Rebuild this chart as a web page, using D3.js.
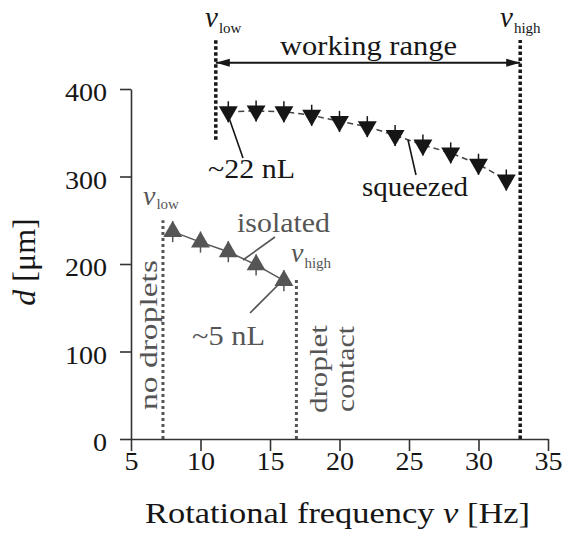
<!DOCTYPE html>
<html>
<head>
<meta charset="utf-8">
<script src="https://cdn.jsdelivr.net/npm/d3@7"></script>
<style>
  html, body { margin: 0; padding: 0; background: #fff; }
  svg { display: block; font-family: "Liberation Serif", "Times New Roman", serif; }
</style>
</head>
<body>
<div id="chart"></div>
<script>
// ---- data ----
const freqSqueezed = [12, 14, 16, 18, 20, 22, 24, 26, 28, 30, 32];
const dSqueezed    = [374, 375, 374, 370, 363, 357, 347, 336, 327, 314, 296];
const errSqueezed  = [12, 12, 12, 12, 12, 12, 12, 12, 12, 12, 12];

const freqIsolated = [8, 10, 12, 14, 16];
const dIsolated    = [237, 225, 214, 199, 181];
const errIsolated  = [12, 12, 12, 12, 12];

const xTicks = [5, 10, 15, 20, 25, 30, 35];
const yTicks = [0, 100, 200, 300, 400];

// boundary frequencies (vertical dotted lines): x, bottom d, top d
const boundFreq   = [11.1, 33.0, 7.3, 16.9];
const boundBottom = [342, 0, 0, 0];
const boundTop    = [456, 456, 250, 184];
const boundGroup  = ["squeezed", "squeezed", "isolated", "isolated"];

const workingRange = [11.1, 33.0];
const workingRangeD = 430;

// ---- layout ----
const W = 565, H = 535;
const x = d3.scaleLinear().domain([5, 35]).range([131, 548]);
const y = d3.scaleLinear().domain([0, 400]).range([439, 89]);

const BLACK = "#161616", GREY = "#555555", AXIS = "#333333";
const SX = 1.08;

const svg = d3.select("#chart").append("svg").attr("width", W).attr("height", H);

// ---- boundary dotted lines ----
svg.append("g").selectAll("line").data(boundFreq).join("line")
  .attr("x1", d => x(d)).attr("x2", d => x(d))
  .attr("y1", (d, i) => y(boundBottom[i])).attr("y2", (d, i) => y(boundTop[i]))
  .attr("stroke", (d, i) => boundGroup[i] === "squeezed" ? BLACK : GREY)
  .attr("stroke-width", (d, i) => boundGroup[i] === "squeezed" ? 3.5 : 3)
  .attr("stroke-dasharray", (d, i) => boundGroup[i] === "squeezed" ? "3.5,2.5" : "3,3");

// ---- working range arrow ----
const defs = svg.append("defs");
["arrEnd", "arrStart"].forEach((id, k) => {
  defs.append("marker").attr("id", id)
    .attr("viewBox", "0 0 14 10").attr("refX", k === 0 ? 14 : 0).attr("refY", 5)
    .attr("markerWidth", 14).attr("markerHeight", 10).attr("markerUnits", "userSpaceOnUse")
    .attr("orient", "auto")
    .append("path")
    .attr("d", k === 0 ? "M0,1 L14,5 L0,9 Z" : "M14,1 L0,5 L14,9 Z")
    .attr("fill", BLACK);
});
svg.append("line")
  .attr("x1", x(workingRange[0])).attr("x2", x(workingRange[1]))
  .attr("y1", y(workingRangeD)).attr("y2", y(workingRangeD))
  .attr("stroke", BLACK).attr("stroke-width", 2)
  .attr("marker-start", "url(#arrStart)").attr("marker-end", "url(#arrEnd)");

// ---- axes ----
const gx = svg.append("g").attr("transform", `translate(0,${y(0)})`)
  .call(d3.axisBottom(x).tickValues(xTicks).tickSize(12).tickSizeOuter(0).tickPadding(1));
const gy = svg.append("g").attr("transform", `translate(${x(5)},0)`)
  .call(d3.axisLeft(y).tickValues(yTicks).tickSize(11).tickSizeOuter(0).tickPadding(13));
[gx, gy].forEach(g => {
  g.select(".domain").attr("stroke", AXIS).attr("stroke-width", 1.6);
  g.selectAll(".tick line").attr("stroke", AXIS).attr("stroke-width", 1.6);
  g.selectAll(".tick text")
    .attr("font-family", "Liberation Serif, serif").attr("font-size", 26).attr("fill", BLACK)
    .each(function () {
      const t = d3.select(this);
      const tx = +t.attr("x") || 0, ty = +t.attr("y") || 0;
      t.attr("transform", `translate(${tx},${ty}) scale(${SX},1)`).attr("x", 0).attr("y", 0);
    });
});
gy.selectAll(".tick text").attr("dy", "0.45em");

// ---- series lines ----
const lineGen = d3.line().x(d => x(d[0])).y(d => y(d[1]));
svg.append("path")
  .datum(freqSqueezed.map((f, i) => [f, dSqueezed[i]]))
  .attr("d", lineGen).attr("fill", "none")
  .attr("stroke", "#444").attr("stroke-width", 1.5).attr("stroke-dasharray", "6,4");
svg.append("path")
  .datum(freqIsolated.map((f, i) => [f, dIsolated[i]]))
  .attr("d", lineGen).attr("fill", "none")
  .attr("stroke", GREY).attr("stroke-width", 1.5);

// ---- error bars ----
svg.append("g").selectAll("line").data(freqSqueezed).join("line")
  .attr("x1", d => x(d)).attr("x2", d => x(d))
  .attr("y1", (d, i) => y(dSqueezed[i] - errSqueezed[i]))
  .attr("y2", (d, i) => y(dSqueezed[i] + errSqueezed[i]))
  .attr("stroke", BLACK).attr("stroke-width", 1.5);
svg.append("g").selectAll("line").data(freqIsolated).join("line")
  .attr("x1", d => x(d)).attr("x2", d => x(d))
  .attr("y1", (d, i) => y(dIsolated[i] - errIsolated[i]))
  .attr("y2", (d, i) => y(dIsolated[i] + errIsolated[i]))
  .attr("stroke", GREY).attr("stroke-width", 1.5);

// ---- markers ----
const tri = d3.symbol().type(d3.symbolTriangle).size(155);
svg.append("g").selectAll("path").data(freqSqueezed).join("path")
  .attr("d", tri)
  .attr("transform", (d, i) => `translate(${x(d)},${y(dSqueezed[i])}) rotate(180)`)
  .attr("fill", BLACK);
svg.append("g").selectAll("path").data(freqIsolated).join("path")
  .attr("d", tri)
  .attr("transform", (d, i) => `translate(${x(d)},${y(dIsolated[i])})`)
  .attr("fill", GREY);

// ---- annotation pointer lines ----
const pointers = [
  [228, 115, 243, 158, BLACK],
  [408, 140, 416, 175, BLACK],
  [275, 237, 243, 260, GREY],
  [283, 280, 250, 313, GREY]
];
svg.append("g").selectAll("line").data(pointers).join("line")
  .attr("x1", d => d[0]).attr("y1", d => d[1]).attr("x2", d => d[2]).attr("y2", d => d[3])
  .attr("stroke", d => d[4]).attr("stroke-width", 1.6);

// ---- text helpers ----
function label(px, py, str, size, color, len) {
  const t = svg.append("text")
    .attr("x", px).attr("y", py)
    .attr("font-size", size).attr("fill", color)
    .text(str);
  if (len) t.attr("textLength", len).attr("lengthAdjust", "spacingAndGlyphs");
  return t;
}
function nu(px, py, sub, color, size, subSize, subDy) {
  const t = svg.append("text").attr("x", px).attr("y", py).attr("fill", color);
  t.append("tspan").attr("font-size", size).attr("font-style", "italic").text("ν");
  t.append("tspan").attr("font-size", subSize).attr("dx", 1).attr("dy", subDy).text(sub);
}
function vlabel(px, py, str, size, color, len) {
  const t = svg.append("text")
    .attr("transform", `translate(${px},${py}) rotate(-90)`)
    .attr("font-size", size).attr("fill", color).text(str);
  if (len) t.attr("textLength", len).attr("lengthAdjust", "spacingAndGlyphs");
}

// top labels
label(280, 55, "working range", 28, BLACK, 177);
nu(205, 27, "low", BLACK, 29, 15, 6);
nu(500, 27, "high", BLACK, 29, 15, 6);

// series annotations
label(208, 178, "~22 nL", 28, BLACK, 87);
label(362, 196, "squeezed", 28, BLACK, 106);
label(237, 232, "isolated", 28, GREY, 93);
label(192, 345, "~5 nL", 28, GREY, 73);
nu(143, 205, "low", GREY, 28, 15, 4);
nu(291, 262, "high", GREY, 28, 15, 6);

// rotated region labels
vlabel(157, 410, "no droplets", 25, GREY, 150);
vlabel(327, 413, "droplet", 25, GREY, 88);
vlabel(354, 412, "contact", 25, GREY, 86);

// axis titles
const xt = svg.append("text").attr("x", 145).attr("y", 523)
  .attr("font-size", 30).attr("fill", BLACK)
  .attr("textLength", 385).attr("lengthAdjust", "spacingAndGlyphs");
xt.append("tspan").text("Rotational frequency ");
xt.append("tspan").attr("font-style", "italic").text("ν");
xt.append("tspan").text(" [Hz]");

const yt = svg.append("text")
  .attr("transform", "translate(35,262) rotate(-90)")
  .attr("text-anchor", "middle").attr("font-size", 32).attr("fill", BLACK);
yt.append("tspan").attr("font-style", "italic").text("d");
yt.append("tspan").text(" [μm]");
</script>
</body>
</html>
